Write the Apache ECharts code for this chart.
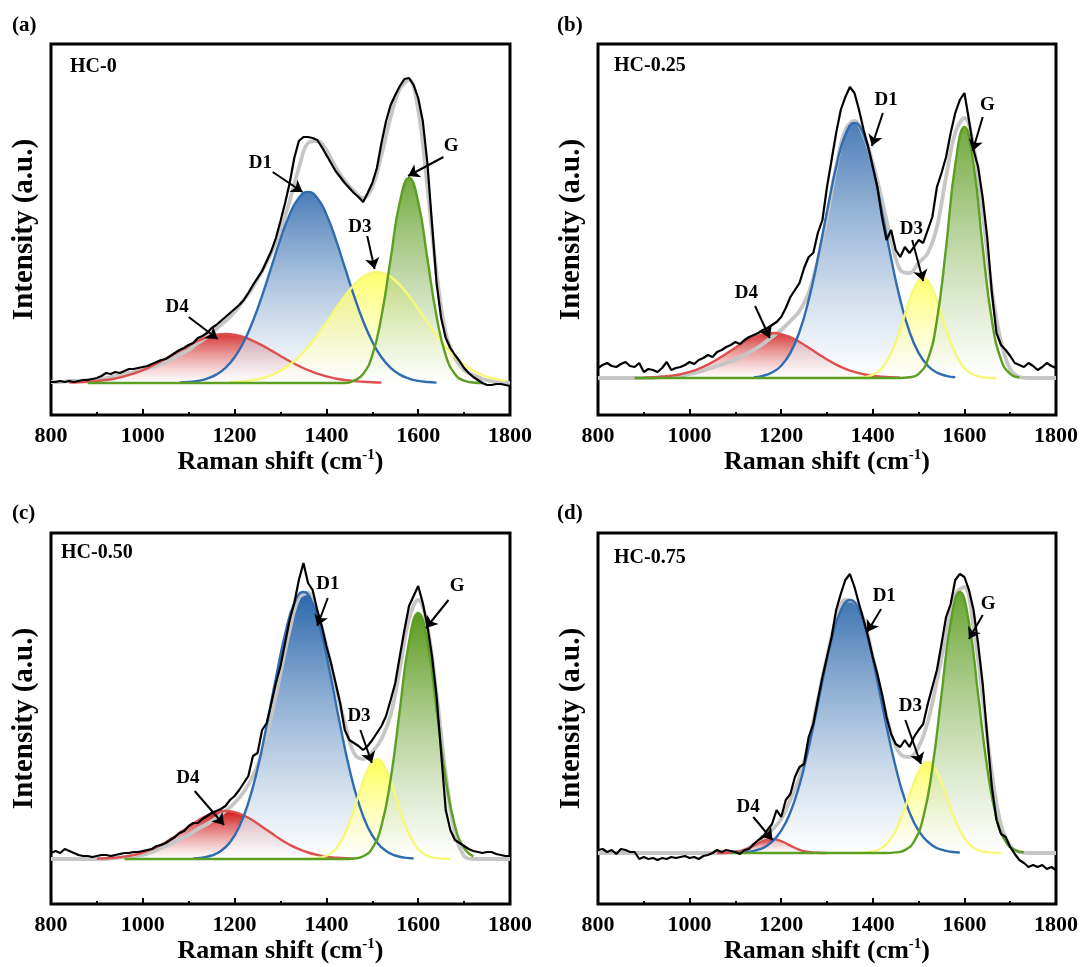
<!DOCTYPE html>
<html><head><meta charset="utf-8">
<script src="https://cdn.jsdelivr.net/npm/echarts@6/dist/echarts.min.js"></script>
<style>html,body{margin:0;padding:0;background:#fff}#c{width:1085px;height:967px}</style>
</head><body><div id="c"></div>
<script>
// ---------------- DATA ----------------
const fitX = [800,820,840,860,880,900,920,940,960,980,1000,1020,1040,1060,1080,1100,1120,1140,1160,1180,1200,1220,1240,1260,1280,1300,1320,1340,1360,1380,1400,1420,1440,1460,1480,1500,1520,1540,1560,1580,1600,1620,1640,1660,1680,1700,1720,1740,1760,1780,1800];
const fitXOdd = [810,830,850,870,890,910,930,950,970,990,1010,1030,1050,1070,1090,1110,1130,1150,1170,1190,1210,1230,1250,1270,1290,1310,1330,1350,1370,1390,1410,1430,1450,1470,1490,1510,1530,1550,1570,1590,1610,1630,1650,1670,1690,1710,1730,1750,1770,1790];
const rawX = [800,810,820,830,840,850,860,870,880,890,900,910,920,930,940,950,960,970,980,990,1000,1010,1020,1030,1040,1050,1060,1070,1080,1090,1100,1110,1120,1130,1140,1150,1160,1170,1180,1190,1200,1210,1220,1230,1240,1250,1260,1270,1280,1290,1300,1310,1320,1330,1340,1350,1360,1370,1380,1390,1400,1410,1420,1430,1440,1450,1460,1470,1480,1490,1500,1510,1520,1530,1540,1550,1560,1570,1580,1590,1600,1610,1620,1630,1640,1650,1660,1670,1680,1690,1700,1710,1720,1730,1740,1750,1760,1770,1780,1790,1800];
const xTickValues = [800,1000,1200,1400,1600,1800];
const panelLetters = ['(a)','(b)','(c)','(d)'];
const sampleNames = ['HC-0','HC-0.25','HC-0.50','HC-0.75'];
const peakNames = ['D4','D1','D3','G'];

// HC-0
const aRaw = [1,1,2,1,2,1,2,3,3,4, 5,7,10,9,11,10,12,14,14,15, 16,17,19,21,23,24,27,30,33,35, 38,40,45,47,50,55,58,62,66,70, 74,78,83,90,98,105,112,122,132,145, 162,180,200,225,242,246,246,245,243,236, 228,220,212,206,200,195,190,186,181,190, 200,215,240,262,278,288,297,304,305,298, 285,262,220,160,100,65,45,35,28,22, 15,10,6,3,0,-2,-2,-1,-1,-2, -3];
const aFit = [1,1,2,2,3,3,5,7,9,11, 13,16,19,23,28,33,40,46,54,62, 71,83,96,112,130,153,182,215,240,242, 233,216,202,192,185,196,228,266,294,303, 273,196,110,50,25,13,8,4,2,1, 0];
const aD4 = [null,null,0.4,0.7,1.2,1.9,3.0,4.5,6.6,9.4, 12.8,17.0,21.8,27.0,32.4,37.6,42.2,45.9,48.2,49, 48.2,45.9,42.2,37.6,32.4,27.0,21.8,17.0,12.8,9.4, 6.6,4.5,3.0,1.9,1.2,0.7,0.4,null,null,null, null,null,null,null,null,null,null,null,null,null, null];
const aD1 = [null,null,null,null,null,null,null,null,null,null, null,null,null,null,0.4,1.0,2.1,4.4,8.4,15.2, 25.8,41.3,62.0,87.4,115.8,144.2,168.6,185.1,191,185.1, 168.6,144.2,115.8,87.4,62.0,41.3,25.8,15.2,8.4,4.4, 2.1,1.0,0.4,null,null,null,null,null,null,null, null];
const aD3 = [null,null,null,null,null,null,null,null,null,null, null,null,null,null,null,null,null,null,null,0.7, 1.2,2.2,3.8,6.2,9.9,15.0,22.0,30.9,41.7,54.0, 67.3,80.6,92.7,102.5,108.8,111,108.8,102.5,92.7,80.6, 67.3,54.0,41.7,30.9,22.0,15.0,9.9,6.2,3.8,2.2];
const aG = [null,null,null,null,0,0,0,0,0,0, 0,0,0,0,0,0,0,0,0,0, 0,0,0,0,0,0,0,0,0,0, 0,0,0,2.3,9.0,27.7,66.6,124.3,180.9,205, 180.9,124.3,66.6,27.7,9.0,2.3,0.5,0,null,null, null];

// HC-0.25
const bRaw = [10,13,15,12,11,14,16,12,11,15, 6,9,8,6,10,16,8,10,11,13, 16,14,18,20,23,21,26,28,31,33, 36,34,38,41,43,45,48,50,53,56, 61,70,81,88,95,110,121,125,145,158, 191,218,245,268,281,291,285,268,248,231, 211,191,161,138,148,128,121,131,125,131, 138,135,148,161,191,205,221,245,265,278, 285,258,228,211,180,140,85,45,33,28, 22,15,13,11,15,12,8,11,15,12, 10];
const bFit = [0,0,0,0,0,0,0,1,1,2, 4,6,9,12,15,18,23,28,34,41, 48,57,67,85,118,161,211,248,257,243, 215,178,138,108,105,115,125,151,201,245, 260,232,165,88,36,9,1,0,0,0, 0];
const bD4 = [null,null,null,null,null,0.4,0.7,1.3,2.3,3.8, 6.1,9.3,13.4,18.5,24.3,30.3,36.0,40.8,43.9,45, 43.9,40.8,36.0,30.3,24.3,18.5,13.4,9.3,6.1,3.8, 2.3,1.3,0.7,0.4,null,null,null,null,null,null, null,null,null,null,null,null,null,null,null,null, null];
const bD1 = [null,null,null,null,null,null,null,null,null,null, null,null,null,null,null,null,null,0.8,2.2,5.5, 12.3,25.1,46.4,78.1,119.6,166.5,211.0,243.2,255,243.2, 211.0,166.5,119.6,78.1,46.4,25.1,12.3,5.5,2.2,0.8, null,null,null,null,null,null,null,null,null,null, null];
const bD3 = [null,null,null,null,null,null,null,null,null,null, null,null,null,null,null,null,null,null,null,null, null,null,null,null,null,null,null,0,0.4,1.7, 5.9,16.3,36.1,63.5,89.3,100,89.3,63.5,36.1,16.3, 5.9,1.7,0.4,0,null,null,null,null,null,null];
const bG = [null,null,null,null,0,0,0,0,0,0, 0,0,0,0,0,0,0,0,0,0, 0,0,0,0,0,0,0,0,0,0, 0,0,0,0,0.7,4.2,18.4,57.8,130.6,213.2, 251,213.2,130.6,57.8,18.4,4.2,0.7,null,null,null, null];

// HC-0.50
const cRaw = [6,8,6,10,8,6,4,3,3,2, 3,4,4,3,4,5,6,6,7,7, 8,9,10,13,14,16,19,22,26,28, 33,36,36,40,43,46,48,50,53,59, 63,69,76,83,103,106,129,136,156,176, 193,216,239,256,279,296,276,269,249,233, 213,196,176,156,129,119,116,113,109,113, 119,126,133,143,159,176,203,229,253,263, 273,256,233,203,163,106,49,29,19,16, 13,10,8,7,6,7,7,5,4,3, 3];
const cFit = [0,0,0,0,0,0,0,1,2,3, 4,7,11,15,20,24,30,35,41,48, 56,67,83,106,143,186,229,261,266,246, 213,173,136,106,100,107,120,144,190,240, 259,232,165,85,27,3,0,0,0,0, 0];
const cD4 = [null,null,null,null,null,0.4,0.7,1.4,2.4,4.1, 6.5,9.9,14.3,19.7,25.9,32.3,38.4,43.5,46.8,48, 46.8,43.5,38.4,32.3,25.9,19.7,14.3,9.9,6.5,4.1, 2.4,1.4,0.7,0.4,null,null,null,null,null,null, null,null,null,null,null,null,null,null,null,null, null];
const cD1 = [null,null,null,null,null,null,null,null,null,null, null,null,null,null,null,0.5,1.4,3.5,8.0,16.8, 32.1,56.3,90.5,133.7,180.9,224.6,255.7,267,255.7,224.6, 180.9,133.7,90.5,56.3,32.1,16.8,8.0,3.5,1.4,0.5, null,null,null,null,null,null,null,null,null,null];
const cD3 = [null,null,null,null,null,null,null,null,null,null, null,null,null,null,null,null,null,null,null,null, null,null,null,null,null,null,null,0,0.4,1.7, 5.9,16.3,36.1,63.5,89.3,100,89.3,63.5,36.1,16.3, 5.9,1.7,0.4,0,null,null,null,null,null,null];
const cG = [null,null,null,null,null,null,null,null,0,0, 0,0,0,0,0,0,0,0,0,0, 0,0,0,0,0,0,0,0,0,0, 0,0,0,0.5,2.7,10.8,33.3,79.9,149.2,217.1, 246,217.1,149.2,79.9,33.3,10.8,2.7,null,null,null, null];

// HC-0.75
const dRaw = [3,4,1,3,-1,4,3,1,1,-6, -4,-6,-5,-7,-5,-6,-4,-5,-4,-3, -5,-4,-6,-3,-2,0,3,1,3,2, 1,-1,3,4,9,13,16,23,29,43, 36,53,59,76,86,89,116,129,153,176, 196,216,243,259,273,279,266,249,233,216, 196,179,159,136,119,109,106,113,106,116, 123,129,149,166,183,209,236,249,273,279, 276,263,243,209,169,116,66,33,19,16, 6,-1,-7,-10,-14,-12,-14,-12,-16,-14, -17];
const dFit = [0,0,0,0,0,0,0,0,0,0, 0,0,0,0,0,1,3,8,14,23, 34,53,76,109,153,196,233,253,251,233, 196,156,119,99,96,106,131,172,218,258, 266,225,155,80,28,7,1,0,0,0, 0];
const dD4 = [null,null,null,null,null,null,null,null,null,null, null,null,null,0,0.2,1.0,3.2,7.3,11.9,14, 11.9,7.3,3.2,1.0,0.2,0,null,null,null,null, null,null,null,null,null,null,null,null,null,null, null,null,null,null,null,null,null,null,null,null, null];
const dD1 = [null,null,null,null,null,null,null,null,null,null, null,null,null,null,null,0.5,1.3,3.3,7.6,15.9, 30.4,53.3,85.8,126.6,171.4,212.8,242.3,253,242.3,212.8, 171.4,126.6,85.8,53.3,30.4,15.9,7.6,3.3,1.3,0.5, null,null,null,null,null,null,null,null,null,null];
const dD3 = [null,null,null,null,null,null,null,null,null,null, null,null,null,null,null,null,null,null,null,null, null,null,null,null,null,null,null,null,0,0.4, 1.5,5.4,14.8,32.8,57.8,81.2,91,81.2,57.8,32.8, 14.8,5.4,1.5,0.4,0,null,null,null,null,null, null];
const dG = [null,null,null,null,null,null,null,null,null,null, null,null,null,null,0,0,0,0,0,0, 0,0,0,0,0,0,0,0,0,0, 0,0,0.6,2.9,11.5,35.3,84.7,158.3,230.3,261, 230.3,158.3,84.7,35.3,11.5,2.9,0.6,null,null,null];

// annotation anchors in data units: [label, textX, textY, arrowFromX, arrowFromY, arrowToX, arrowToY]
const aAnn = [['D4',1075,76,1100,66,1163,44],['D1',1256,220,1283,211,1348,191],['D3',1473,156,1489,147,1505,114],['G',1672,237,1655,226,1578,207]];
const bAnn = [['D4',1124,85,1143,72,1175,40],['D1',1429,278,1422,265,1398,232],['D3',1484,149,1486,138,1510,97],['G',1650,273,1640,261,1618,227]];
const cAnn = [['D4',1098,81,1113,68,1177,34],['D1',1403,275,1403,261,1380,233],['D3',1471,143,1474,129,1499,96],['G',1685,273,1666,259,1617,231]];
const dAnn = [['D4',1128,46,1139,36,1181,13],['D1',1425,257,1418,244,1388,221],['D3',1482,147,1471,133,1505,89],['G',1652,249,1640,238,1610,214]];

// ---------------- LAYOUT / STYLE ----------------
const FONT = '"Times New Roman","Liberation Serif",serif';
const grids = [
  {left:51, top:44, width:459, height:371},
  {left:598, top:44, width:458, height:371},
  {left:51, top:533, width:459, height:371},
  {left:598, top:533, width:458, height:371}
];
const yRanges = [[-32,339],[-37,334],[-45,326],[-51,320]];
const fillOpacity = [0.85,0.85,1,0.9];
const compStyle = [
  {line:'#dc5050', top:'#cf1414'},
  {line:'#2f6db3', top:'#2a66ab'},
  {line:'#f8f878', top:'#ffff55'},
  {line:'#5c9f22', top:'#5a9a1c'}
];
const panels = [
  {raw:aRaw, fit:aFit, comps:[[aD4,fitX],[aD1,fitX],[aD3,fitXOdd],[aG,fitX]], ann:aAnn},
  {raw:bRaw, fit:bFit, comps:[[bD4,fitX],[bD1,fitX],[bD3,fitXOdd],[bG,fitX]], ann:bAnn},
  {raw:cRaw, fit:cFit, comps:[[cD4,fitX],[cD1,fitXOdd],[cD3,fitXOdd],[cG,fitX]], ann:cAnn},
  {raw:dRaw, fit:dFit, comps:[[dD4,fitX],[dD1,fitXOdd],[dD3,fitX],[dG,fitXOdd]], ann:dAnn}
];
const letterPos = [[12,26],[557,26],[12,514],[557,514]];
const samplePos = [[70,67],[614,66],[61,553],[614,558]];

const zip = (xs, ys) => xs.map((x, i) => [x, ys[i]]);

const xAxes = [], yAxes = [], series = [], graphics = [];
panels.forEach((p, k) => {
  xAxes.push({
    gridIndex:k, type:'value', position:'bottom', min:800, max:1800, interval:200,
    axisLine:{show:false, onZero:false},
    axisTick:{show:true, inside:true, length:6, lineStyle:{color:'#000', width:2}},
    minorTick:{show:true, splitNumber:2, length:3, lineStyle:{color:'#000', width:2}},
    splitLine:{show:false}, minorSplitLine:{show:false},
    axisLabel:{color:'#000', fontFamily:FONT, fontWeight:'bold', fontSize:22, margin:10,
      formatter: v => xTickValues.includes(v) ? String(v) : ''}
  });
  yAxes.push({gridIndex:k, type:'value', min:yRanges[k][0], max:yRanges[k][1], show:false,
    axisLine:{onZero:false}});
  series.push({
    type:'line', xAxisIndex:k, yAxisIndex:k, data:zip(fitX, p.fit), smooth:0.4,
    symbol:'none', lineStyle:{color:'#c6c6c6', width:3.8}, silent:true
  });
  p.comps.forEach((c, j) => {
    series.push({
      type:'line', name:peakNames[j], xAxisIndex:k, yAxisIndex:k, data:zip(c[1], c[0]), smooth:0.5,
      symbol:'none', silent:true,
      lineStyle:{color:compStyle[j].line, width:2.4},
      areaStyle:{opacity:fillOpacity[k], color:{type:'linear', x:0, y:0, x2:0, y2:1,
        colorStops:[{offset:0, color:compStyle[j].top},{offset:1, color:'rgba(255,255,255,0.7)'}]}}
    });
  });
  series.push({
    type:'line', xAxisIndex:k, yAxisIndex:k, data:zip(rawX, p.raw), symbol:'none', silent:true,
    lineStyle:{color:'#000', width:2.2},
    markLine:{silent:true, symbol:['none','arrow'], symbolSize:11, animation:false,
      lineStyle:{color:'#000', width:2, type:'solid'}, label:{show:false}, emphasis:{disabled:true},
      data:p.ann.map(a => [{coord:[a[3], a[4]]},{coord:[a[5], a[6]]}])},
    markPoint:{silent:true, symbol:'circle', symbolSize:1, itemStyle:{color:'rgba(0,0,0,0)'}, animation:false,
      label:{show:true, position:'inside', formatter:'{b}', color:'#000', fontFamily:FONT, fontWeight:'bold', fontSize:19},
      data:p.ann.map(a => ({name:a[0], coord:[a[1], a[2]]}))}
  });
  const g = grids[k];
  graphics.push({type:'text', x:letterPos[k][0], y:letterPos[k][1],
    style:{text:panelLetters[k], font:'bold 21px '+FONT, fill:'#000', align:'left', verticalAlign:'middle'}});
  graphics.push({type:'text', x:samplePos[k][0], y:samplePos[k][1],
    style:{text:sampleNames[k], font:'bold 20px '+FONT, fill:'#000', align:'left', verticalAlign:'middle'}});
  graphics.push({type:'text', x:g.left-26, y:g.top+g.height/2, rotation:Math.PI/2,
    style:{text:'Intensity (a.u.)', font:'bold 29px '+FONT, fill:'#000', align:'center', verticalAlign:'middle'}});
  graphics.push({type:'text', x:g.left+g.width/2, y:g.top+g.height+47,
    style:{text:'{b|Raman shift (cm}{s|-1}{b|)}', align:'center', verticalAlign:'middle',
      rich:{b:{font:'bold 26px '+FONT, fill:'#000', lineHeight:28},
            s:{font:'bold 15px '+FONT, fill:'#000', verticalAlign:'top', lineHeight:16}}}});
});

const chart = echarts.init(document.getElementById('c'), null, {renderer:'canvas'});
chart.setOption({
  animation:false,
  backgroundColor:'#fff',
  grid: grids.map(g => Object.assign({show:true, borderColor:'#000', borderWidth:3, backgroundColor:'transparent', containLabel:false}, g)),
  xAxis:xAxes, yAxis:yAxes, series:series, graphic:graphics
});
</script></body></html>
